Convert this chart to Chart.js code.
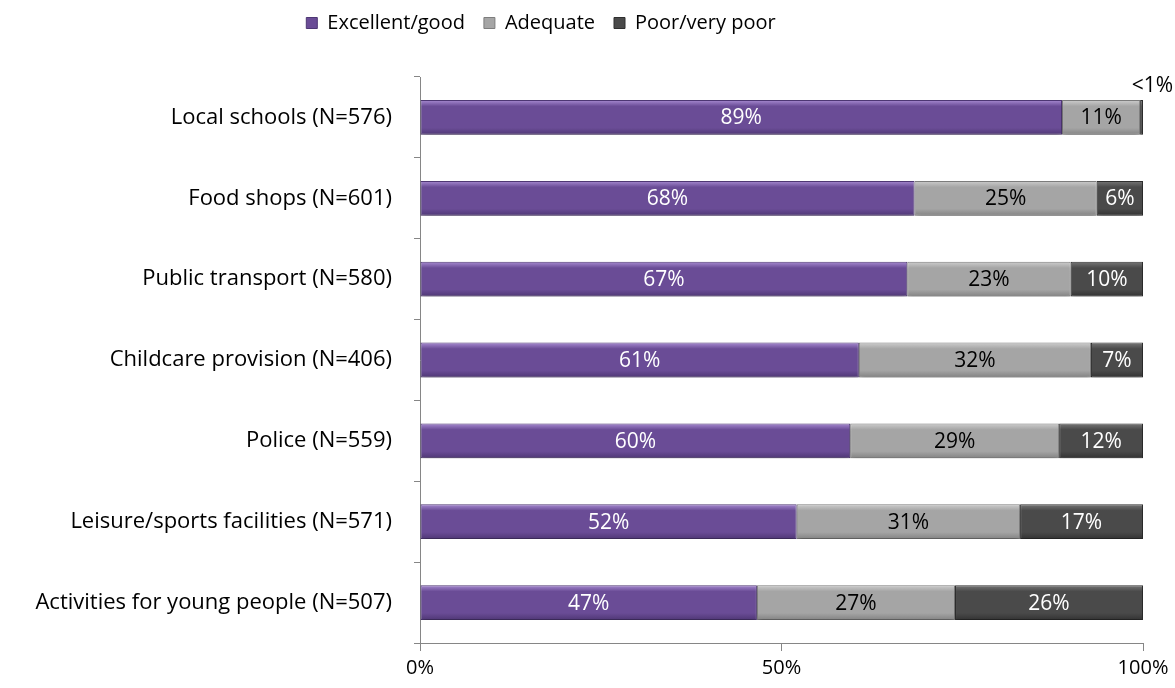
<!DOCTYPE html>
<html>
<head>
<meta charset="utf-8">
<script src="https://cdn.jsdelivr.net/npm/chart.js@4"></script>
<style>
  body { margin: 0; background: #fff; }
  #wrap { width: 1175px; height: 688px; }
</style>
</head>
<body>
<div id="wrap"><canvas id="myBar" width="1175" height="688"></canvas></div>
<script>
const categories = [
  "Local schools (N=576)",
  "Food shops (N=601)",
  "Public transport (N=580)",
  "Childcare provision (N=406)",
  "Police (N=559)",
  "Leisure/sports facilities (N=571)",
  "Activities for young people (N=507)"
];
const excellentGood = [88.8, 68.4, 67.4, 60.7, 59.5, 52.1, 46.6];
const adequate = [10.8, 25.2, 22.6, 32.1, 28.9, 30.9, 27.4];
const poorVeryPoor = [0.4, 6.4, 10.0, 7.2, 11.6, 17.0, 26.0];
const xTicks = [0, 50, 100];

const FONT = "'Open Sans', 'Noto Sans', sans-serif";
const BAR_PCT = 0.43;

// vertical shading of each bar, like the bevel in the original
function shade(top, mid, bottom) {
  return (c) => {
    const chart = c.chart;
    const y = chart.scales.y;
    if (!y || c.dataIndex == null || !y.height) return mid;
    const band = y.height / categories.length;
    const cy = y.getPixelForValue(c.dataIndex);
    const h = band * BAR_PCT;
    if (!isFinite(cy) || !isFinite(h)) return mid;
    const g = chart.ctx.createLinearGradient(0, cy - h / 2, 0, cy + h / 2);
    g.addColorStop(0, top);
    g.addColorStop(0.18, mid);
    g.addColorStop(0.8, mid);
    g.addColorStop(1, bottom);
    return g;
  };
}

// soft shadow under the bars
const barShadow = {
  id: 'barShadow',
  beforeDatasetsDraw(chart) {
    const ctx = chart.ctx;
    ctx.save();
    ctx.shadowColor = 'rgba(0,0,0,0.28)';
    ctx.shadowBlur = 5;
    ctx.shadowOffsetY = 4;
  },
  afterDatasetsDraw(chart) {
    chart.ctx.restore();
  }
};

// draws the % labels inside the bars
const barLabels = {
  id: 'barLabels',
  afterDatasetsDraw(chart) {
    const ctx = chart.ctx;
    ctx.save();
    ctx.font = '21px ' + FONT;
    ctx.textBaseline = 'middle';
    chart.data.datasets.forEach((ds, di) => {
      const meta = chart.getDatasetMeta(di);
      meta.data.forEach((bar, i) => {
        const v = ds.data[i];
        if (v < 1) {
          ctx.fillStyle = '#000';
          ctx.textAlign = 'right';
          ctx.fillText('<1%', chart.width - 2, bar.y - bar.height / 2 - 14);
          return;
        }
        ctx.textAlign = 'center';
        ctx.fillStyle = ds.labelColor;
        ctx.fillText(Math.round(v) + '%', (bar.x + bar.base) / 2, bar.y + 1);
      });
    });
    ctx.restore();
  }
};

// extra room under the legend, and legend sits a bit left of centre
const legendGap = {
  id: 'legendGap',
  beforeInit(chart) {
    const orig = chart.legend.fit;
    chart.legend.fit = function () {
      orig.call(this);
      this.height += 34;
    };
  },
  beforeDraw(chart) {
    chart.legend.right = chart.chartArea.right - 69;
  }
};

let ctx = document.getElementById('myBar').getContext('2d');

let barChart = new Chart(ctx, {
  type: 'bar',
  data: {
    labels: categories,
    datasets: [
      {
        label: "Excellent/good",
        data: excellentGood,
        backgroundColor: shade('#a88bd2', '#6a4c96', '#4f3775'),
        borderColor: '#4e3774',
        borderWidth: 1,
        borderSkipped: false,
        legendColor: '#6a4c96',
        labelColor: '#fff'
      },
      {
        label: "Adequate",
        data: adequate,
        backgroundColor: shade('#cdcdcd', '#a5a5a5', '#838383'),
        borderColor: '#7d7d7d',
        borderWidth: 1,
        borderSkipped: false,
        legendColor: '#a5a5a5',
        labelColor: '#000'
      },
      {
        label: "Poor/very poor",
        data: poorVeryPoor,
        backgroundColor: shade('#777', '#4a4a4a', '#333'),
        borderColor: '#2e2e2e',
        borderWidth: 1,
        borderSkipped: false,
        legendColor: '#4a4a4a',
        labelColor: '#fff'
      }
    ]
  },
  options: {
    indexAxis: 'y',
    responsive: false,
    animation: false,
    layout: { padding: { left: 8, right: 32, top: -6, bottom: 3 } },
    datasets: { bar: { categoryPercentage: 1, barPercentage: BAR_PCT } },
    plugins: {
      legend: {
        position: 'top',
        labels: {
          font: { family: FONT, size: 20 },
          color: '#000',
          boxWidth: 11,
          boxHeight: 11,
          padding: 19,
          generateLabels: (chart) => {
            const items = Chart.defaults.plugins.legend.labels.generateLabels(chart);
            items.forEach((it) => {
              const ds = chart.data.datasets[it.datasetIndex];
              it.fillStyle = ds.legendColor;
              it.strokeStyle = ds.borderColor;
            });
            return items;
          }
        }
      },
      tooltip: { enabled: false }
    },
    scales: {
      x: {
        stacked: true,
        min: 0,
        max: 100,
        afterBuildTicks: (axis) => { axis.ticks = xTicks.map(v => ({ value: v })); },
        grid: {
          drawOnChartArea: false,
          color: '#868686',
          tickLength: 8
        },
        border: { color: '#868686' },
        ticks: {
          callback: (v) => v + '%',
          font: { family: FONT, size: 20 },
          color: '#000',
          padding: 5
        }
      },
      y: {
        stacked: true,
        afterFit: (scale) => { scale.width = 412; },
        grid: {
          offset: true,
          drawOnChartArea: false,
          color: '#868686',
          tickLength: 6
        },
        border: { color: '#868686' },
        ticks: {
          font: { family: FONT, size: 22 },
          color: '#000',
          padding: 22
        }
      }
    }
  },
  plugins: [barShadow, barLabels, legendGap]
});
</script>
</body>
</html>
